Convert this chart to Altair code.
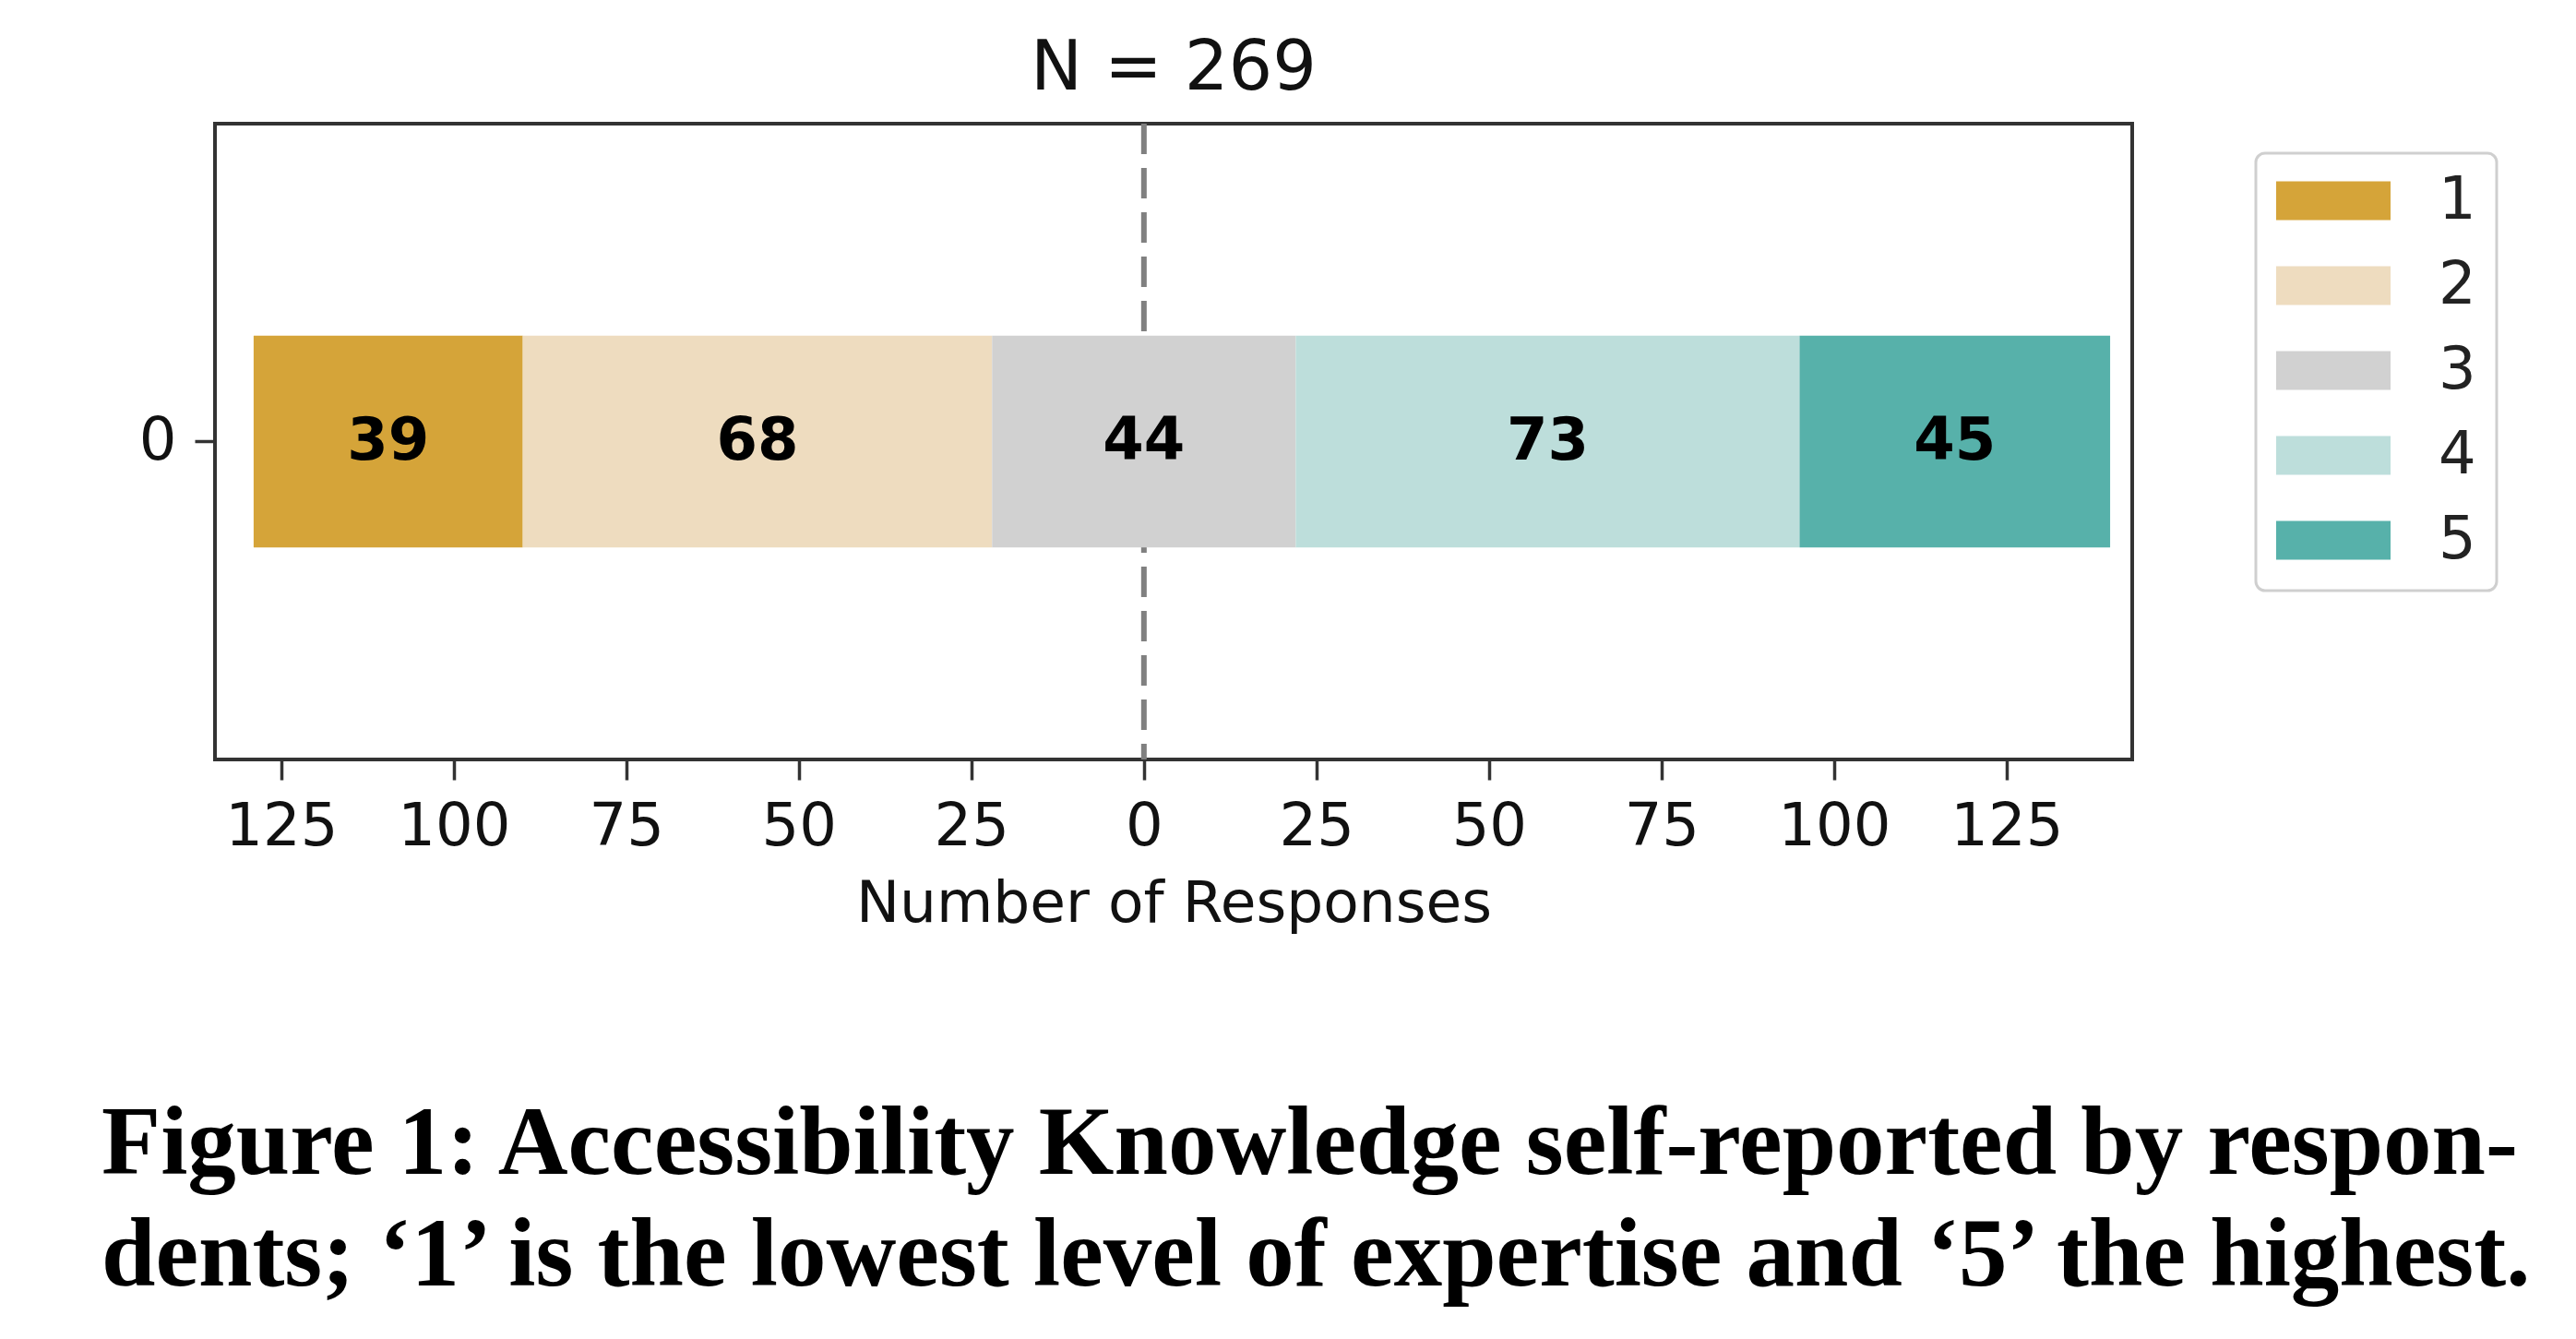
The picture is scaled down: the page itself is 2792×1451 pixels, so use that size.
import altair as alt
import pandas as pd

# ---- data ----
levels = ["1", "2", "3", "4", "5"]
counts = [39, 68, 44, 73, 45]
colors = ["#D5A439", "#EEDCBF", "#D1D1D1", "#BDDEDB", "#57B1AA"]
row_label = "0"
x_ticks = [-125, -100, -75, -50, -25, 0, 25, 50, 75, 100, 125]
x_domain = [-134.6, 143.2]
title_text = "N = 269"
x_title = "Number of Responses"
caption_lines = [
    "Figure 1: Accessibility Knowledge self-reported by respon-",
    "dents; \u20181\u2019 is the lowest level of expertise and \u20185\u2019 the highest.",
]

# diverging stacked layout, centred on the middle category
start = -(counts[0] + counts[1] + counts[2] / 2)
rows = []
pos = start
for lev, c in zip(levels, counts):
    rows.append({"level": lev, "row": row_label, "x0": pos, "x1": pos + c,
                 "mid": pos + c / 2, "count": c})
    pos += c
df = pd.DataFrame(rows)

W, H = 2078, 689
SANS = "DejaVu Sans"

xscale = alt.Scale(domain=x_domain, nice=False, zero=False)
yscale = alt.Scale(domain=[row_label], paddingInner=0, paddingOuter=1)
xaxis = alt.Axis(values=x_ticks, labelExpr="abs(datum.value)", title=x_title,
                 titleBaseline="alphabetic", titleY=175,
                 labelBaseline="alphabetic", labelPadding=70)
yaxis = alt.Axis(title=None, labelPadding=20)

zero_rule = alt.Chart(pd.DataFrame({"x": [0]})).mark_rule(
    color="#808080", strokeWidth=6, strokeDash=[33, 15]
).encode(x=alt.X("x:Q", scale=xscale, axis=xaxis, title=x_title))

bars = alt.Chart(df).mark_bar().encode(
    x=alt.X("x0:Q", scale=xscale, axis=xaxis, title=x_title),
    x2="x1:Q",
    y=alt.Y("row:N", scale=yscale, axis=yaxis, title=None),
    color=alt.Color("level:N", scale=alt.Scale(domain=levels, range=colors),
                    legend=alt.Legend(orient="none", legendX=2212, legendY=32, title=None,
                                      symbolType="M-1,-0.34H1V0.34H-1Z", symbolSize=15376,
                                      symbolStrokeWidth=0, symbolOpacity=1,
                                      labelFontSize=64, labelFont=SANS, labelColor="#222222",
                                      labelOffset=52, padding=22, rowPadding=27,
                                      clipHeight=59,
                                      strokeColor="#cfcfcf", fillColor="white",
                                      cornerRadius=10)),
)

labels = alt.Chart(df).mark_text(
    font=SANS, fontSize=64, fontWeight="bold", color="black", baseline="middle"
).encode(
    x=alt.X("mid:Q", scale=xscale, axis=xaxis, title=x_title),
    y=alt.Y("row:N", scale=yscale, axis=yaxis, title=None),
    text="count:Q",
)

one = pd.DataFrame({"k": [0]})
title_mark = alt.Chart(one).mark_text(
    text=title_text, font=SANS, fontSize=75, color="#111111",
    align="center", baseline="alphabetic"
).encode(x=alt.value(W / 2), y=alt.value(-37))

caption_mark = alt.Chart(one).mark_text(
    text=caption_lines, font="Liberation Serif", fontSize=105, fontWeight="bold",
    color="black", align="left", baseline="alphabetic", lineHeight=121
).encode(x=alt.value(-123), y=alt.value(1138))

chart = alt.layer(zero_rule, bars, labels, title_mark, caption_mark).properties(
    width=W, height=H,
    padding={"left": 225, "top": 126, "right": 473, "bottom": 620},
    autosize=alt.AutoSizeParams(type="none"),
    background="white",
).configure_view(
    stroke="#333333", strokeWidth=4
).configure_legend(
    strokeWidth=3
).configure_axis(
    grid=False, domain=False, tickColor="#333333", tickWidth=3.5, tickSize=22,
    labelFont=SANS, labelFontSize=64, labelColor="#111111",
    titleFont=SANS, titleFontSize=63, titleFontWeight="normal", titleColor="#111111",
)

chart.save("out.html", embed_options={"renderer": "svg", "actions": False})
